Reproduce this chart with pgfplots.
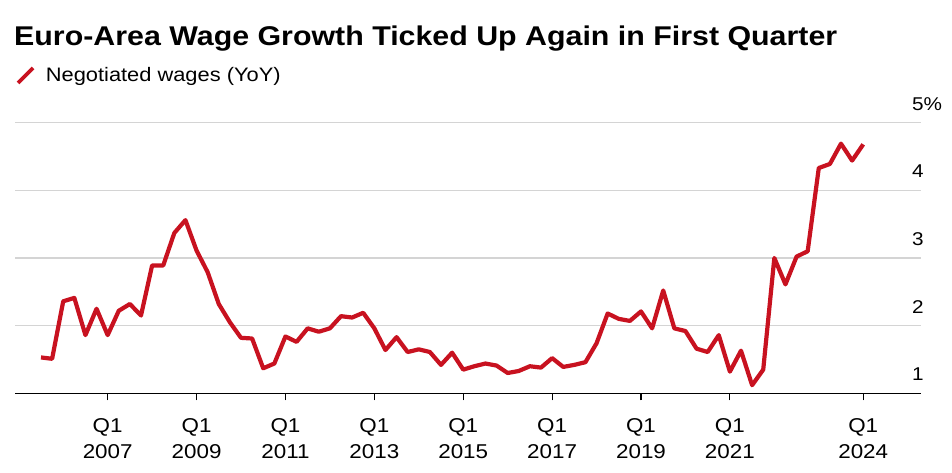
\documentclass[border=0pt]{standalone}
\usepackage{fontspec}
\setmainfont{Liberation Sans}[FakeStretch=1.12]
\usepackage{pgfplots}
\usepackage{pgfplotstable}
\pgfplotsset{compat=1.18}
\definecolor{bred}{RGB}{200,18,32}
\definecolor{gridgray}{RGB}{212,212,212}
\pgfplotstableread{
t v
2005.50 1.53
2005.75 1.51
2006.00 2.36
2006.25 2.41
2006.50 1.86
2006.75 2.25
2007.00 1.86
2007.25 2.22
2007.50 2.32
2007.75 2.15
2008.00 2.89
2008.25 2.89
2008.50 3.37
2008.75 3.56
2009.00 3.11
2009.25 2.79
2009.50 2.32
2009.75 2.05
2010.00 1.82
2010.25 1.81
2010.50 1.37
2010.75 1.44
2011.00 1.84
2011.25 1.76
2011.50 1.96
2011.75 1.91
2012.00 1.96
2012.25 2.14
2012.50 2.12
2012.75 2.19
2013.00 1.96
2013.25 1.64
2013.50 1.83
2013.75 1.61
2014.00 1.65
2014.25 1.61
2014.50 1.42
2014.75 1.60
2015.00 1.35
2015.25 1.40
2015.50 1.44
2015.75 1.41
2016.00 1.30
2016.25 1.33
2016.50 1.40
2016.75 1.38
2017.00 1.52
2017.25 1.39
2017.50 1.42
2017.75 1.46
2018.00 1.74
2018.25 2.18
2018.50 2.10
2018.75 2.07
2019.00 2.21
2019.25 1.96
2019.50 2.52
2019.75 1.96
2020.00 1.92
2020.25 1.66
2020.50 1.61
2020.75 1.86
2021.00 1.32
2021.25 1.63
2021.50 1.12
2021.75 1.35
2022.00 3.00
2022.25 2.61
2022.50 3.02
2022.75 3.10
2023.00 4.33
2023.25 4.39
2023.50 4.69
2023.75 4.44
2024.00 4.68
}\wages
\begin{document}
\begin{tikzpicture}
\useasboundingbox (0,0) rectangle (952bp,473bp);
\node[anchor=base west, inner sep=0pt, font=\bfseries\fontsize{27.1bp}{30bp}\selectfont] at (14bp,427.3bp) {Euro-Area Wage Growth Ticked Up Again in First Quarter};
\begin{axis}[
  at={(15bp,79.7bp)}, anchor=south west,
  scale only axis, width=906bp, height=270.6bp,
  xmin=2004.915, xmax=2025.3, ymin=1, ymax=5,
  axis x line=bottom, axis y line=right,
  x axis line style={-, black, line width=1.2bp},
  y axis line style={draw=none},
  xtick={2007,2009,2011,2013,2015,2017,2019,2021,2024},
  xticklabels={{Q1\\2007},{Q1\\2009},{Q1\\2011},{Q1\\2013},{Q1\\2015},{Q1\\2017},{Q1\\2019},{Q1\\2021},{Q1\\2024}},
  xticklabel style={align=center, font=\fontsize{20bp}{25.6bp}\selectfont, inner sep=0pt, anchor=north, yshift=-18bp},
  tick align=outside,
  major tick length=7bp,
  x tick style={black, line width=1.2bp},
  ytick={1,2,3,4,5},
  yticklabels={1,2,3,4,5\%},
  y tick style={draw=none},
  ymajorgrids, grid style={gridgray, line width=1.2bp},
  yticklabel style={anchor=base west, inner sep=0pt, xshift=-16bp, yshift=12.5bp, font=\fontsize{18.5bp}{22bp}\selectfont},
  legend style={at={(axis description cs:0.001,1.1744)}, anchor=west, draw=none, fill=none, inner sep=0pt, font=\fontsize{19.5bp}{22bp}\selectfont},
  legend cell align=left,
  legend image code/.code={\draw[bred, line width=3.8bp] (0bp,-7.5bp) -- (15bp,7.5bp);},
]
\addplot[bred, line width=4.2bp, line join=round, mark=none] table[x=t, y=v] {\wages};
\addlegendentry{\hspace{9bp}Negotiated wages (YoY)}
\end{axis}
\end{tikzpicture}
\end{document}
